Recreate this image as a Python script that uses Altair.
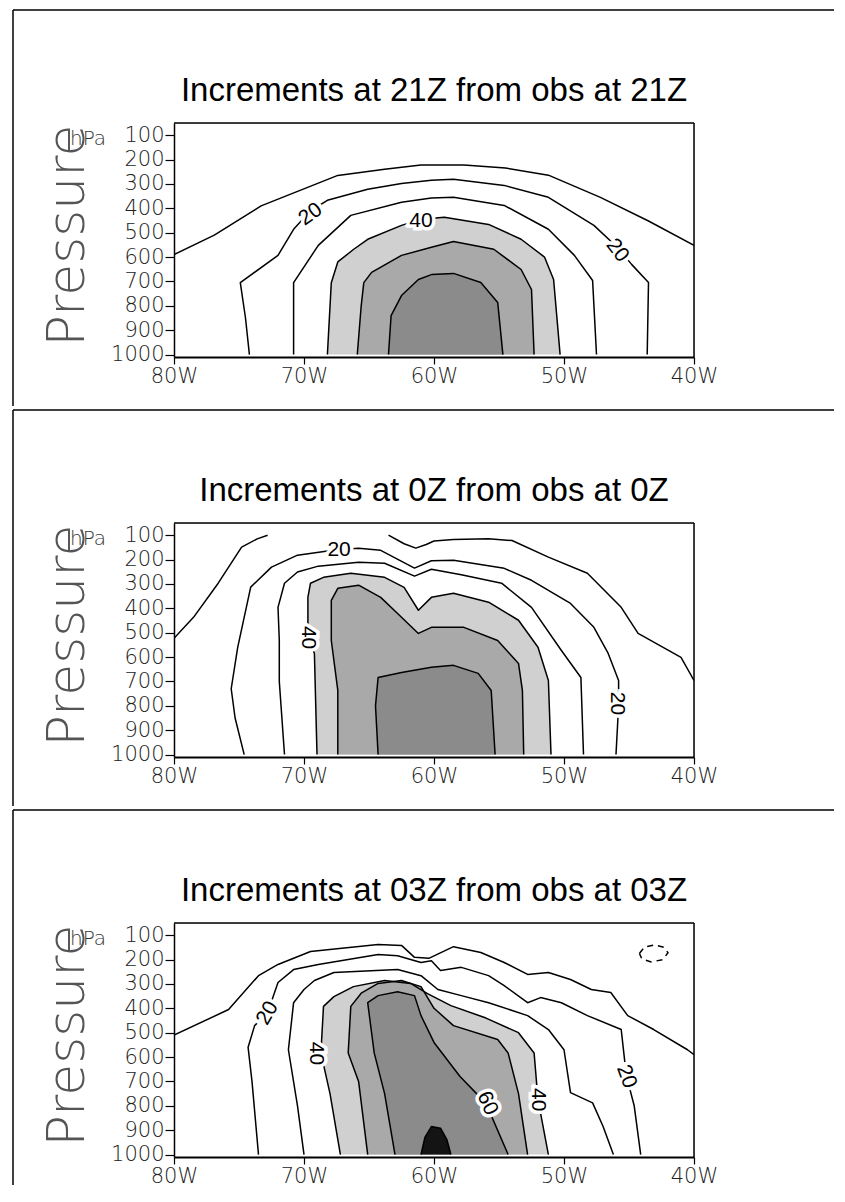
import altair as alt
import pandas as pd

TITLES = ["Increments at 21Z from obs at 21Z",
          "Increments at 0Z from obs at 0Z",
          "Increments at 03Z from obs at 03Z"]
LON_TICKS = [-80, -70, -60, -50, -40]
P_TICKS = [100, 200, 300, 400, 500, 600, 700, 800, 900, 1000]
SHADE_LEVELS = [40, 50, 60, 70]
SHADE_COLORS = ["#d0d0d0", "#a9a9a9", "#8b8b8b", "#141414"]

# ---------------- panel 1 (21Z) contours: [lon, pressure] ----------------
P1_10 = [[-80, 590], [-76.9, 510], [-73.3, 390], [-67.4, 265], [-63.8, 240], [-61.0, 222],
         [-57.7, 222], [-54.5, 235], [-51.2, 264], [-47.2, 355], [-43.5, 452], [-40, 552]]
P1_20 = [[-74.2, 1000], [-74.5, 850], [-74.9, 705], [-72.0, 593], [-70.8, 486], [-69.5, 410],
         [-68.2, 367], [-65.1, 322], [-62.5, 298], [-60.2, 285], [-58.5, 281], [-54.6, 306],
         [-51.2, 355], [-47.7, 470], [-45.8, 565], [-44.8, 630], [-43.5, 704], [-43.6, 1000]]
P1_30 = [[-70.8, 1000], [-70.8, 705], [-68.9, 552], [-66.4, 429], [-62.5, 375], [-60.2, 358],
         [-58.5, 355], [-54.6, 388], [-51.2, 486], [-49.2, 593], [-47.8, 696], [-47.5, 1000]]
P1_40 = [[-68.2, 1000], [-67.9, 705], [-67.4, 620], [-66.2, 569], [-65.1, 527], [-62.5, 470],
         [-61.0, 445], [-59.2, 437], [-55.8, 466], [-53.3, 527], [-51.5, 600], [-50.8, 692],
         [-50.3, 1000]]
P1_50 = [[-65.9, 1000], [-65.6, 800], [-65.4, 705], [-64.8, 663], [-62.5, 593], [-60.2, 560],
         [-58.5, 536], [-55.4, 568], [-53.3, 651], [-52.5, 733], [-52.3, 1000]]
P1_60 = [[-63.5, 1000], [-63.3, 840], [-62.5, 758], [-61.2, 692], [-60.2, 672], [-58.5, 667],
         [-56.4, 704], [-55.1, 786], [-54.7, 1000]]
P1_LINES = [(10, P1_10), (20, P1_20), (30, P1_30), (40, P1_40), (50, P1_50), (60, P1_60)]
P1_LAB_TEXT = ["20", "40", "20"]
P1_LAB_LON = [-69.5, -61.0, -45.9]
P1_LAB_P = [425, 450, 573]
P1_LAB_ANGLE = [325, 0, 52]

# ---------------- panel 2 (0Z) ----------------
P2_10A = [[-80, 523], [-78.5, 437], [-76.6, 297], [-74.8, 149], [-73.6, 115], [-72.8, 100]]
P2_10B = [[-63.5, 100], [-62.3, 135], [-61.4, 153], [-60.6, 138], [-60.0, 124], [-58.5, 118],
          [-55.8, 115], [-54.0, 122], [-51.2, 190], [-48.2, 256], [-45.6, 396], [-44.3, 503],
          [-41.0, 601], [-40, 696]]
P2_20 = [[-74.6, 1000], [-75.3, 850], [-75.6, 730], [-75.1, 560], [-74.1, 313], [-72.5, 231],
         [-70.5, 182], [-67.5, 160], [-65.8, 154], [-64.1, 162], [-61.5, 235], [-60.2, 205],
         [-58.5, 203], [-54.6, 236], [-52.5, 285], [-49.5, 380], [-47.7, 478], [-46.6, 585],
         [-45.8, 696], [-45.8, 800], [-46.0, 1000]]
P2_30 = [[-71.5, 1000], [-71.9, 700], [-71.9, 532], [-72.0, 396], [-71.5, 297], [-70.5, 251],
         [-68.9, 227], [-65.8, 211], [-63.8, 215], [-61.5, 268], [-60.2, 240], [-57.9, 262],
         [-54.8, 297], [-52.5, 396], [-50.2, 573], [-48.7, 684], [-48.5, 1000]]
P2_40 = [[-69.0, 1000], [-69.2, 585], [-69.7, 519], [-69.7, 355], [-69.5, 297], [-68.5, 273],
         [-66.4, 256], [-63.8, 273], [-62.3, 314], [-61.2, 408], [-60.2, 355], [-58.5, 338],
         [-55.8, 375], [-53.5, 449], [-52.0, 560], [-51.2, 696], [-51.0, 1000]]
P2_50 = [[-67.4, 1000], [-67.4, 737], [-67.9, 532], [-67.9, 367], [-67.4, 318], [-65.8, 305],
         [-64.1, 355], [-62.8, 421], [-61.2, 503], [-60.2, 478], [-57.7, 478], [-55.1, 532],
         [-53.5, 626], [-53.2, 737], [-53.1, 1000]]
P2_60 = [[-64.3, 1000], [-64.5, 800], [-64.3, 684], [-62.5, 663], [-60.2, 642], [-58.5, 634],
         [-56.6, 667], [-55.6, 737], [-55.3, 1000]]
P2_LINES = [(10, P2_10A), (10, P2_10B), (20, P2_20), (30, P2_30), (40, P2_40), (50, P2_50),
            (60, P2_60)]
P2_LAB_TEXT = ["20", "40", "20"]
P2_LAB_LON = [-67.3, -69.7, -45.9]
P2_LAB_P = [160, 520, 790]
P2_LAB_ANGLE = [0, 90, 90]

# ---------------- panel 3 (03Z) ----------------
P3_10 = [[-80, 510], [-75.8, 405], [-73.5, 266], [-72.0, 220], [-69.5, 167], [-64.3, 138],
         [-62.5, 142], [-61.5, 191], [-60.4, 195], [-58.5, 147], [-56.4, 171], [-54.6, 212],
         [-52.8, 261], [-51.2, 253], [-49.5, 282], [-47.9, 323], [-46.4, 335], [-45.1, 430],
         [-43.1, 487], [-40.5, 570], [-40, 590]]
P3_20 = [[-73.5, 1000], [-74.0, 700], [-74.3, 560], [-73.8, 471], [-72.8, 418], [-72.0, 294],
         [-70.8, 241], [-68.9, 220], [-64.3, 179], [-62.8, 184], [-61.0, 212], [-60.2, 205],
         [-59.5, 245], [-57.9, 232], [-55.8, 266], [-54.6, 307], [-52.8, 377], [-51.8, 356],
         [-50.2, 377], [-48.2, 430], [-45.6, 487], [-45.4, 583], [-45.2, 677], [-44.6, 800],
         [-44.1, 1000]]
P3_30 = [[-70.0, 1000], [-70.5, 800], [-71.2, 570], [-70.8, 377], [-70.0, 323], [-69.2, 286],
         [-67.7, 253], [-62.8, 241], [-61.0, 266], [-59.7, 323], [-57.9, 348], [-55.8, 377],
         [-52.8, 430], [-51.2, 487], [-50.0, 570], [-49.5, 746], [-47.8, 788], [-47.0, 884],
         [-46.2, 1000]]
P3_40 = [[-67.2, 1000], [-68.0, 750], [-68.7, 583], [-68.5, 392], [-67.7, 352], [-66.2, 311],
         [-63.8, 286], [-61.8, 298], [-60.5, 340], [-58.7, 389], [-56.0, 440], [-53.5, 500],
         [-52.3, 583], [-52.0, 775], [-51.2, 1000]]
P3_50 = [[-65.1, 1000], [-65.8, 700], [-66.6, 583], [-66.4, 392], [-65.6, 338], [-64.3, 298],
         [-62.5, 286], [-61.0, 311], [-60.0, 400], [-58.5, 471], [-55.1, 528], [-54.3, 583],
         [-53.5, 750], [-52.8, 1000]]
P3_60 = [[-63.0, 1000], [-63.8, 750], [-64.6, 583], [-65.1, 377], [-64.3, 348], [-62.8, 332],
         [-61.5, 348], [-61.0, 430], [-60.0, 540], [-58.0, 680], [-56.0, 790], [-54.3, 1000]]
P3_70 = [[-61.0, 1000], [-60.7, 930], [-60.2, 885], [-59.5, 892], [-59.0, 940], [-58.7, 1000]]
P3_NEG = [[-44.2, 175], [-43.8, 148], [-43.0, 140], [-42.3, 150], [-42.0, 172], [-42.4, 200],
          [-43.3, 210], [-44.0, 198], [-44.2, 175]]
P3_LINES = [(10, P3_10), (20, P3_20), (30, P3_30), (40, P3_40), (50, P3_50), (60, P3_60),
            (70, P3_70)]
P3_LAB_TEXT = ["20", "40", "60", "40", "20"]
P3_LAB_LON = [-72.8, -69.1, -55.9, -52.0, -45.2]
P3_LAB_P = [420, 585, 790, 775, 680]
P3_LAB_ANGLE = [300, 90, 65, 90, 70]

LABEL_FONT = "DejaVu Sans"
TEXT_FONT = "Liberation Sans"

X = alt.X("lon:Q",
          scale=alt.Scale(domain=[-80, -40], nice=False, zero=False),
          axis=alt.Axis(values=LON_TICKS, labelExpr="abs(datum.value) + 'W'", title=None,
                        grid=False, tickSize=7, tickColor="black", tickWidth=1.2,
                        domainColor="black", domainWidth=2.2, labelFont=LABEL_FONT,
                        labelFontSize=21, labelFontWeight=200, labelColor="#222",
                        labelPadding=1, labelFlush=False, labelOverlap=False))
Y = alt.Y("p:Q",
          scale=alt.Scale(domain=[50, 1010], reverse=True, nice=False, zero=False),
          axis=alt.Axis(values=P_TICKS, format="d", title="Pressure", grid=False, tickSize=9,
                        tickColor="black", tickWidth=1.2, domainColor="black", domainWidth=1.5,
                        labelFont=LABEL_FONT, labelFontSize=21, labelFontWeight=200,
                        labelColor="#222", labelPadding=1, labelFlush=False,
                        labelOverlap=False, titleFont=LABEL_FONT, titleFontSize=52,
                        titleFontWeight=200, titleColor="#555", titleAngle=270,
                        titleBaseline="alphabetic", titleAlign="center", titleX=-91,
                        titleY=112))


def frame_rows(lines):
    rows = []
    for k, (lev, pts) in enumerate(lines):
        for i, (lon, p) in enumerate(pts):
            rows.append({"seg": k, "level": lev, "i": i, "lon": lon, "p": p})
    return pd.DataFrame(rows)


def panel(title, lines, lab_text, lab_lon, lab_p, lab_angle, neg=None, left_len=283):
    df = frame_rows(lines)
    layers = []
    for lev, col in zip(SHADE_LEVELS, SHADE_COLORS):
        sub = df[df.level == lev]
        if len(sub):
            layers.append(alt.Chart(sub).mark_line(filled=True, color=col, strokeWidth=0,
                                                   clip=True)
                          .encode(x=X, y=Y, order="i:Q", detail="seg:N"))
    layers.append(alt.Chart(df).mark_line(color="black", strokeWidth=1.5, clip=True,
                                          strokeJoin="round")
                  .encode(x=X, y=Y, order="i:Q", detail="seg:N"))
    if neg is not None:
        ndf = frame_rows([(-10, neg)])
        layers.append(alt.Chart(ndf).mark_line(color="black", strokeWidth=1.5,
                                               strokeDash=[6, 5], clip=True)
                      .encode(x=X, y=Y, order="i:Q", detail="seg:N"))
    ldf = pd.DataFrame({"t": lab_text, "lon": lab_lon, "p": lab_p, "a": lab_angle})
    layers.append(alt.Chart(ldf).mark_text(font=TEXT_FONT, fontSize=21, color="white",
                                           stroke="white", strokeWidth=7)
                  .encode(x=X, y=Y, text="t:N", angle=alt.Angle("a:Q", scale=None)))
    layers.append(alt.Chart(ldf).mark_text(font=TEXT_FONT, fontSize=21, color="black")
                  .encode(x=X, y=Y, text="t:N", angle=alt.Angle("a:Q", scale=None)))
    one = pd.DataFrame({"t": [title]})
    layers.append(alt.Chart(one).mark_text(font=TEXT_FONT, fontSize=33, color="black",
                                           align="center", baseline="alphabetic")
                  .encode(text="t:N", x=alt.value(260), y=alt.value(-22)))
    hpa = pd.DataFrame({"t": ["hPa"]})
    layers.append(alt.Chart(hpa).mark_text(font=LABEL_FONT, fontSize=20, fontWeight=200,
                                           color="#333", align="center",
                                           baseline="alphabetic")
                  .encode(text="t:N", x=alt.value(-86), y=alt.value(22)))
    # plot frame
    layers.append(alt.Chart(hpa).mark_rule(color="black", strokeWidth=1.5)
                  .encode(x=alt.value(0), x2=alt.value(520), y=alt.value(0)))
    layers.append(alt.Chart(hpa).mark_rule(color="black", strokeWidth=1.5)
                  .encode(x=alt.value(520), y=alt.value(0), y2=alt.value(234)))
    # page frame lines
    layers.append(alt.Chart(hpa).mark_rule(color="black", strokeWidth=1.5)
                  .encode(x=alt.value(-161), x2=alt.value(660), y=alt.value(-113)))
    layers.append(alt.Chart(hpa).mark_rule(color="black", strokeWidth=1.5)
                  .encode(x=alt.value(-161), y=alt.value(-113), y2=alt.value(left_len)))
    return alt.layer(*layers).properties(width=520, height=234)


p1 = panel(TITLES[0], P1_LINES, P1_LAB_TEXT, P1_LAB_LON, P1_LAB_P, P1_LAB_ANGLE)
p2 = panel(TITLES[1], P2_LINES, P2_LAB_TEXT, P2_LAB_LON, P2_LAB_P, P2_LAB_ANGLE)
p3 = panel(TITLES[2], P3_LINES, P3_LAB_TEXT, P3_LAB_LON, P3_LAB_P, P3_LAB_ANGLE,
           neg=P3_NEG, left_len=262)

chart = (alt.vconcat(p1, p2, p3, spacing=0)
         .properties(padding={"left": 3, "top": 0, "right": 0, "bottom": 0})
         .configure_view(stroke="black", strokeWidth=1.5)
         .configure(background="white"))

chart.save("out.html", embed_options={"renderer": "svg", "actions": False})
